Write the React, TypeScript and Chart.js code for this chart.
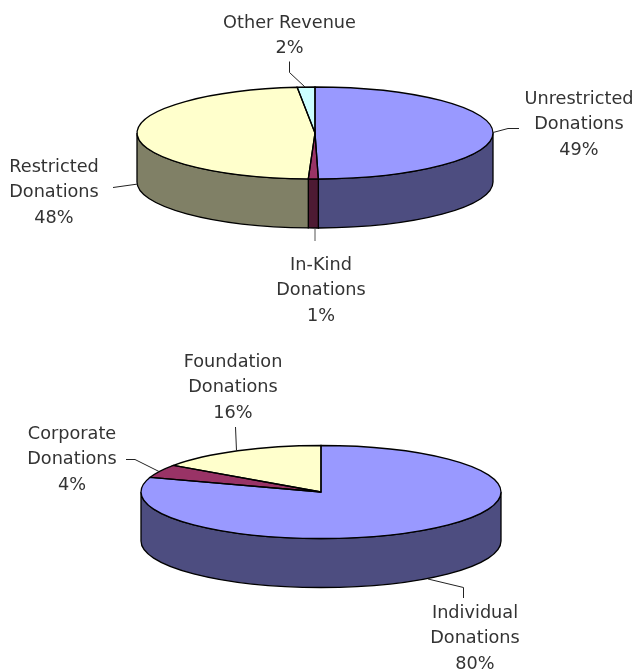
import React, { useEffect, useRef } from "react";
import { Chart, registerables } from "chart.js";

Chart.register(...registerables);

const revenueCategories = ["Unrestricted Donations", "In-Kind Donations", "Restricted Donations", "Other Revenue"];
const revenueValues = [49.7, 0.9, 47.8, 1.6];
const revenuePercents = ["49%", "1%", "48%", "2%"];
const revenueColors = ["#9999FF", "#993366", "#FFFFCC", "#CCFFFF"];

const donorCategories = ["Individual Donations", "Corporate Donations", "Foundation Donations"];
const donorValues = [80.1, 4.6, 15.3];
const donorPercents = ["80%", "4%", "16%"];
const donorColors = ["#9999FF", "#993366", "#FFFFCC"];

const FONT = '17.7px "DejaVu Sans"';
const LINE_H = 25.7;

type Lab = { lines: string[]; x: number; y: number; leader: number[][]; grey?: boolean };

function splitLabel(cat: string, pct: string): string[] {
  if (cat === "Other Revenue") return [cat, pct];
  const i = cat.lastIndexOf(" ");
  return [cat.slice(0, i), cat.slice(i + 1), pct];
}

const revenueLayout = [
  { x: 579, y: 99, leader: [[493, 132.5], [508, 128.5], [519, 128.5]] },
  { x: 321, y: 265, leader: [[315, 228], [315, 241]], grey: true },
  { x: 54, y: 167, leader: [[138, 184], [113, 187.5]] },
  { x: 289.5, y: 23, leader: [[305, 87], [289.5, 72.5], [289.5, 61.5]] },
];
const donorLayout = [
  { x: 475, y: 613, leader: [[428, 579], [463.5, 587.5], [463.5, 598]] },
  { x: 72, y: 434, leader: [[159, 471.5], [135, 459.5], [126, 459.5]] },
  { x: 233, y: 362, leader: [[236.5, 451], [235.5, 427]] },
];

function darken(hex: string) {
  const n = parseInt(hex.slice(1), 16);
  const r = (n >> 16) & 255, g = (n >> 8) & 255, b = n & 255;
  return `rgb(${Math.round(r / 2)},${Math.round(g / 2)},${Math.round(b / 2)})`;
}

function pie3d(opts: { ry: number; depth: number; labels: Lab[]; colors: string[] }) {
  const { ry, depth, labels, colors } = opts;
  const geom = (chart: any) => chart.getDatasetMeta(0).data.map((a: any) =>
    a.getProps(["x", "y", "startAngle", "endAngle", "outerRadius"], true)
  );
  return {
    id: "pie3d",
    beforeDatasetsDraw(chart: any) {
      const ctx = chart.ctx;
      ctx.save();
      ctx.lineWidth = 1.3;
      ctx.strokeStyle = "#000";
      geom(chart).forEach((p: any, i: number) => {
        const a = Math.max(p.startAngle, 0);
        const b = Math.min(p.endAngle, Math.PI);
        if (b <= a) return;
        const rx = p.outerRadius;
        ctx.beginPath();
        ctx.ellipse(p.x, p.y, rx, ry, 0, a, b);
        ctx.lineTo(p.x + rx * Math.cos(b), p.y + ry * Math.sin(b) + depth);
        ctx.ellipse(p.x, p.y + depth, rx, ry, 0, b, a, true);
        ctx.closePath();
        ctx.fillStyle = darken(colors[i]);
        ctx.fill();
        ctx.stroke();
      });
      ctx.restore();
    },
    beforeDatasetDraw(chart: any) {
      const ctx = chart.ctx;
      const p = geom(chart)[0];
      ctx.save();
      ctx.translate(p.x, p.y);
      ctx.scale(1, ry / p.outerRadius);
      ctx.translate(-p.x, -p.y);
    },
    afterDatasetDraw(chart: any) {
      chart.ctx.restore();
    },
    afterDatasetsDraw(chart: any) {
      const ctx = chart.ctx;
      ctx.save();
      ctx.lineWidth = 1.3;
      ctx.strokeStyle = "#000";
      geom(chart).forEach((p: any) => {
        ctx.beginPath();
        ctx.moveTo(p.x, p.y);
        ctx.ellipse(p.x, p.y, p.outerRadius, ry, 0, p.startAngle, p.endAngle);
        ctx.closePath();
        ctx.stroke();
      });
      ctx.restore();
    },
    afterDraw(chart: any) {
      const ctx = chart.ctx;
      ctx.save();
      ctx.font = FONT;
      ctx.textAlign = "center";
      ctx.textBaseline = "middle";
      ctx.fillStyle = "#333";
      labels.forEach((l) => {
        l.lines.forEach((t, i) => ctx.fillText(t, l.x, l.y + i * LINE_H));
        ctx.beginPath();
        ctx.lineWidth = 1;
        ctx.strokeStyle = l.grey ? "#555" : "#222";
        l.leader.forEach((pt, i) => (i ? ctx.lineTo(pt[0], pt[1]) : ctx.moveTo(pt[0], pt[1])));
        ctx.stroke();
      });
      ctx.restore();
    },
  };
}

function makeChart(
  el: HTMLCanvasElement,
  cfg: { cats: string[]; vals: number[]; cols: string[]; pcts: string[]; layout: any[]; radius: number; ry: number; depth: number; padding: any }
) {
  const labels: Lab[] = cfg.cats.map((c, i) => ({ ...cfg.layout[i], lines: splitLabel(c, cfg.pcts[i]) }));
  return new Chart(el, {
    type: "pie",
    data: {
      labels: cfg.cats,
      datasets: [{ data: cfg.vals, backgroundColor: cfg.cols, borderWidth: 0, radius: cfg.radius, clip: false } as any],
    },
    options: {
      responsive: false,
      animation: false,
      devicePixelRatio: 1,
      layout: { padding: cfg.padding },
      plugins: { legend: { display: false }, tooltip: { enabled: false } },
    } as any,
    plugins: [pie3d({ ry: cfg.ry, depth: cfg.depth, labels, colors: cfg.cols })] as any,
  });
}

export default function App() {
  const topRef = useRef<HTMLCanvasElement>(null);
  const botRef = useRef<HTMLCanvasElement>(null);
  useEffect(() => {
    const a = makeChart(topRef.current!, {
      cats: revenueCategories, vals: revenueValues, cols: revenueColors, pcts: revenuePercents,
      layout: revenueLayout, radius: 178, ry: 46, depth: 49,
      padding: { left: 0, right: 6, top: 0, bottom: 405 },
    });
    const b = makeChart(botRef.current!, {
      cats: donorCategories, vals: donorValues, cols: donorColors, pcts: donorPercents,
      layout: donorLayout, radius: 180, ry: 46.5, depth: 49,
      padding: { left: 6, right: 0, top: 313, bottom: 0 },
    });
    return () => { a.destroy(); b.destroy(); };
  }, []);
  const st: React.CSSProperties = { position: "absolute", left: 0, top: 0 };
  return (
    <div style={{ position: "absolute", left: 0, top: 0, width: 636, height: 671, background: "#fff" }}>
      <canvas ref={topRef} width={636} height={671} style={st} />
      <canvas ref={botRef} width={636} height={671} style={st} />
    </div>
  );
}
